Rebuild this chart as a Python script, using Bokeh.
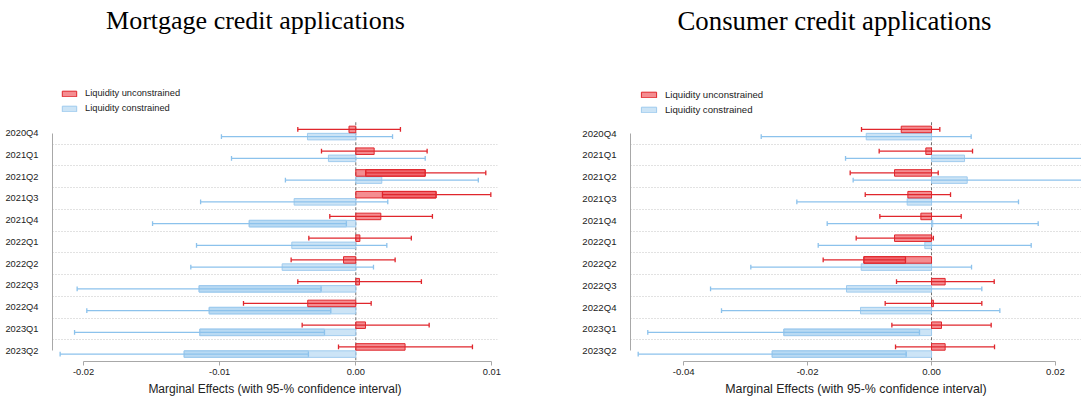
import numpy as np
from bokeh.plotting import figure
from bokeh.layouts import row, column
from bokeh.models import (Range1d, FixedTicker, NumeralTickFormatter, Legend,
                          LegendItem, Label, ColumnDataSource)
from bokeh.embed import file_html
from bokeh.resources import INLINE

# Quarters, top to bottom
quarters = ["2020Q4", "2021Q1", "2021Q2", "2021Q3", "2021Q4", "2022Q1",
            "2022Q2", "2022Q3", "2022Q4", "2023Q1", "2023Q2"]

# Mortgage credit applications: marginal effects and 95% CI bounds
mort_unc_est = [-0.0005, 0.00135, 0.0051, 0.0059, 0.00184, 0.0003,
                -0.0009, 0.00027, -0.00353, 0.00071, 0.00362]
mort_unc_lo = [-0.00426, -0.00252, 0.00073, 0.00196, -0.00191, -0.00345,
               -0.00475, -0.00426, -0.00825, -0.00394, -0.00127]
mort_unc_hi = [0.00328, 0.00524, 0.00955, 0.00992, 0.00563, 0.00408,
               0.00289, 0.00482, 0.00113, 0.00539, 0.00857]

mort_con_est = [-0.00355, -0.00201, 0.00191, -0.00453, -0.00783, -0.0047,
                -0.00541, -0.01151, -0.01077, -0.01146, -0.01261]
mort_con_lo = [-0.00987, -0.00913, -0.00517, -0.0114, -0.01493, -0.0117,
               -0.01212, -0.02047, -0.01976, -0.02066, -0.02172]
mort_con_hi = [0.0027, 0.0051, 0.0090, 0.00235, -0.00069, 0.00228,
               0.0013, -0.00255, -0.00184, -0.0023, -0.00348]

# Consumer credit applications: marginal effects and 95% CI bounds
cons_unc_est = [-0.00489, -0.00092, -0.00597, -0.00382, -0.00172, -0.00597,
                -0.01092, 0.0022, 0.0003, 0.00161, 0.0022]
cons_unc_lo = [-0.0113, -0.00845, -0.01313, -0.0107, -0.00834, -0.01216,
               -0.01749, -0.00565, -0.00748, -0.0064, -0.00581]
cons_unc_hi = [0.00134, 0.00662, 0.00108, 0.00307, 0.00479, 0.0003,
               -0.0042, 0.01012, 0.00812, 0.00963, 0.01017]

cons_con_est = [-0.01054, 0.00533, 0.00576, -0.00393, 0.0002, -0.00108,
                -0.01135, -0.01372, -0.01146, -0.02384, -0.02572]
cons_con_lo = [-0.02749, -0.01388, -0.01265, -0.02174, -0.01684, -0.01829,
               -0.02917, -0.03567, -0.0339, -0.0458, -0.04735]
cons_con_hi = [0.0064, 0.0255, 0.0252, 0.01404, 0.01722, 0.01609,
               0.00646, 0.00812, 0.01103, -0.00194, -0.00409]

series_labels = ["Liquidity unconstrained", "Liquidity constrained"]
mort_ticks = [-0.02, -0.01, 0.0, 0.01]
cons_ticks = [-0.04, -0.02, 0.0, 0.02]

RED_FILL, RED_LINE = "#ea1c24", "#e0262c"
BLUE_FILL, BLUE_LINE, BLUE_WHISK = "#8ec3ec", "#9fcbee", "#8cc2ec"

HEAD_H = 45          # height of the heading strip
PANEL_H = 407 - HEAD_H


def heading(text, width, cx, cy, size):
    """Blank strip carrying a centred panel heading."""
    h = figure(width=width, height=HEAD_H, output_backend="svg",
               toolbar_location=None, min_border=0,
               x_range=Range1d(0, width), y_range=Range1d(HEAD_H, 0))
    h.axis.visible = False
    h.grid.visible = False
    h.outline_line_color = None
    h.add_layout(Label(x=cx, y=cy, text=text, text_align="center",
                       text_baseline="middle", text_font="Liberation Serif",
                       text_font_size=size, text_color="#000000"))
    return h


def coef_sources(est, lo, hi, ypos):
    est, lo, hi = map(np.asarray, (est, lo, hi))
    bar = ColumnDataSource(dict(y=ypos, left=np.minimum(0, est),
                                right=np.maximum(0, est)))
    # part of the bar lying inside the confidence interval when it excludes zero
    pos = (est > 0) & (lo > 0)
    neg = (est < 0) & (hi < 0)
    keep = pos | neg
    inner = ColumnDataSource(dict(y=ypos[keep],
                                  left=np.where(pos, lo, est)[keep],
                                  right=np.where(pos, est, hi)[keep]))
    ci = ColumnDataSource(dict(y=ypos, lo=lo, hi=hi))
    return bar, inner, ci


def panel(unc, con, x_start, x_end, ticks, width, frame_left,
          frame_right_pad, bottom, y_top, scale, legend_spacing):
    fs = lambda v: f"{v * scale:.1f}px"
    p = figure(width=width, height=PANEL_H, output_backend="svg",
               toolbar_location=None,
               x_range=Range1d(x_start, x_end),
               y_range=Range1d(11.5, y_top),
               min_border_left=frame_left, min_border_right=frame_right_pad,
               min_border_top=80 - HEAD_H, min_border_bottom=bottom)
    p.outline_line_color = None
    p.background_fill_color = "white"
    p.border_fill_color = "white"

    idx = np.arange(1, len(quarters) + 1, dtype=float)
    y_unc = idx - 0.17
    y_con = idx + 0.16
    bh = 0.30
    cap = 0.22

    # dotted separators between quarters
    p.xgrid.visible = False
    p.ygrid.ticker = FixedTicker(ticks=list(idx[:-1] + 0.5))
    p.ygrid.grid_line_color = "#c4c4c4"
    p.ygrid.grid_line_dash = "1 2"
    p.ygrid.grid_line_width = 1

    # zero reference line
    p.segment(x0=[0], y0=[0.5], x1=[0], y1=[11.5], line_color="#707070",
              line_dash="3 2", line_width=1)

    renderers = []
    for (est, lo, hi), yy, fill, line, wcol, a1, a2 in (
            (con, y_con, BLUE_FILL, BLUE_LINE, BLUE_WHISK, 0.45, 0.3),
            (unc, y_unc, RED_FILL, RED_LINE, RED_LINE, 0.5, 0.32)):
        bar, inner, ci = coef_sources(est, lo, hi, yy)
        r = p.hbar(y="y", left="left", right="right", height=bh, source=bar,
                   fill_color=fill, fill_alpha=a1, line_color=line,
                   line_width=1)
        p.hbar(y="y", left="left", right="right", height=bh, source=inner,
               fill_color=fill, fill_alpha=a2, line_color=line, line_width=1)
        p.segment(x0="lo", y0="y", x1="hi", y1="y", source=ci,
                  line_color=wcol, line_width=1.3)
        ys = np.asarray(ci.data["y"])
        for k in ("lo", "hi"):
            xs = np.asarray(ci.data[k])
            p.segment(x0=xs, y0=ys - cap / 2, x1=xs, y1=ys + cap / 2,
                      line_color=wcol, line_width=1.3)
        renderers.append(r)

    legend = Legend(items=[LegendItem(label=series_labels[0], renderers=[renderers[1]]),
                           LegendItem(label=series_labels[1], renderers=[renderers[0]])],
                    location="top_left", margin=int(round(8.5 * scale)),
                    padding=0, spacing=legend_spacing,
                    glyph_width=int(round(18 * scale)),
                    glyph_height=int(round(7 * scale)),
                    label_height=int(round(7 * scale)),
                    label_standoff=7, border_line_color=None,
                    background_fill_alpha=0,
                    label_text_font="Liberation Sans",
                    label_text_font_size=fs(9.3), label_text_color="#222222")
    p.add_layout(legend)

    # x axis: line restricted to the tick span
    xa = p.xaxis[0]
    xa.ticker = FixedTicker(ticks=ticks)
    xa.bounds = (ticks[0], ticks[-1])
    xa.formatter = NumeralTickFormatter(format="0.00")
    xa.axis_line_color = "#a8a8a8"
    xa.major_tick_line_color = "#a8a8a8"
    xa.major_tick_out = 4
    xa.major_tick_in = 0
    xa.minor_tick_line_color = None
    xa.major_label_text_font = "Liberation Sans"
    xa.major_label_text_font_size = fs(9.3)
    xa.major_label_text_color = "#222222"
    xa.major_label_standoff = 3
    xa.axis_label = "Marginal Effects (with 95-% confidence interval)"
    xa.axis_label_text_font = "Liberation Sans"
    xa.axis_label_text_font_size = fs(12)
    xa.axis_label_text_font_style = "normal"
    xa.axis_label_text_color = "#222222"
    xa.axis_label_standoff = 4

    ya = p.yaxis[0]
    ya.ticker = FixedTicker(ticks=list(idx))
    ya.major_label_overrides = {int(i): q for i, q in zip(idx, quarters)}
    ya.bounds = (1, len(quarters))
    ya.axis_line_color = "#a8a8a8"
    ya.major_tick_line_color = None
    ya.minor_tick_line_color = None
    ya.major_label_text_font = "Liberation Sans"
    ya.major_label_text_font_size = fs(9.3)
    ya.major_label_text_color = "#222222"
    ya.major_label_standoff = 8
    return p


h1 = heading("Mortgage credit applications", 560, 255, 20, "26px")
h2 = heading("Consumer credit applications", 521, 274, 20, "26.8px")

p1 = panel((mort_unc_est, mort_unc_lo, mort_unc_hi),
           (mort_con_est, mort_con_lo, mort_con_hi),
           -0.02228, 0.01041, mort_ticks, 560, 52, 63, 46, -1.42, 1.0, 5)
p2 = panel((cons_unc_est, cons_unc_lo, cons_unc_hi),
           (cons_con_est, cons_con_lo, cons_con_hi),
           -0.04859, 0.02421, cons_ticks, 521, 70, 0, 37, -1.42, 1.03, 4)

layout = column(row(h1, h2), row(p1, p2))
open("out.html", "w").write(file_html(layout, INLINE))
